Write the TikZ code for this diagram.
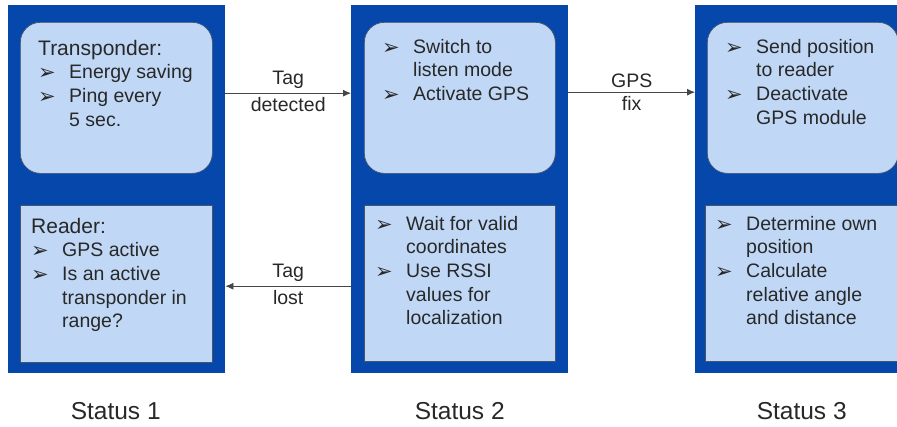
\documentclass[tikz,border=0pt]{standalone}
\usepackage{fontspec}
\setmainfont{Liberation Sans}
\newfontfamily\bulfont{DejaVu Sans}
\usetikzlibrary{positioning, arrows.meta}

\definecolor{stdark}{RGB}{6,71,172}
\definecolor{stlight}{RGB}{192,216,246}
\definecolor{stedge}{RGB}{70,84,108}
\definecolor{sttext}{RGB}{40,40,40}
\definecolor{starrow}{RGB}{70,70,70}

\newcommand{\bl}{\makebox[31pt][l]{\raisebox{-1pt}{\bulfont\fontsize{21}{21}\selectfont ➢}}}
\newcommand{\hd}[1]{\multicolumn{2}{@{}l@{}}{\fontsize{21}{24}\selectfont #1}}

\tikzset{
  column/.style={fill=stdark, inner sep=0pt, anchor=north west},
  roundbox/.style={fill=stlight, draw=stedge, line width=0.7pt, rounded corners=20pt, inner sep=0pt, anchor=north west},
  squarebox/.style={fill=stlight, draw=stedge, line width=0.7pt, inner sep=0pt, anchor=north west},
  boxtext/.style={anchor=north west, inner sep=0pt, text=sttext, font=\fontsize{19.5}{23.6}\selectfont},
  lbl/.style={inner sep=0pt, text=sttext, font=\fontsize{19.5}{23.6}\selectfont},
  flow/.style={draw=starrow, line width=0.8pt, -{Latex[length=8pt, width=7pt]}},
  status/.style={anchor=base, text=sttext, font=\fontsize{24.5}{28}\selectfont},
}

\begin{document}
\begin{tikzpicture}[x=1pt, y=-1pt]
    \useasboundingbox (0,0) rectangle (897,426);
    \clip (0,0) rectangle (897,426);

    % Columns
    \node[column, minimum width=217pt, minimum height=368pt] (col1) at (8,5) {};
    \node[column, minimum width=217pt, minimum height=368pt] (col2) at (351,5) {};
    \node[column, minimum width=217pt, minimum height=368pt] (col3) at (695,5) {};

    % Boxes
    \node[roundbox, minimum width=192pt, minimum height=151pt] (up1) at (20,22) {};
    \node[squarebox, minimum width=192pt, minimum height=157pt] (lo1) at (20,205) {};
    \node[roundbox, minimum width=191pt, minimum height=151pt] (up2) at (364,22) {};
    \node[squarebox, minimum width=191pt, minimum height=156pt] (lo2) at (364,205) {};
    \node[roundbox, minimum width=191pt, minimum height=151pt] (up3) at (707,22) {};
    \node[squarebox, minimum width=193pt, minimum height=156pt] (lo3) at (705,205) {};

    % Texts
    \node[boxtext] (t1a) at (38,38.5) {\begin{tabular}{@{}l@{}l@{}}\hd{Transponder:}\\ \bl & Energy saving\\ \bl & Ping every\\ & 5 sec.\end{tabular}};
    \node[boxtext] (t1b) at (31,216.5) {\begin{tabular}{@{}l@{}l@{}}\hd{Reader:}\\ \bl & GPS active\\ \bl & Is an active\\ & transponder in\\ & range?\end{tabular}};
    \node[boxtext] (t2a) at (382,36.5) {\begin{tabular}{@{}l@{}l@{}}\bl & Switch to\\ & listen mode\\ \bl & Activate GPS\end{tabular}};
    \node[boxtext] (t2b) at (375,213.5) {\begin{tabular}{@{}l@{}l@{}}\bl & Wait for valid\\ & coordinates\\ \bl & Use RSSI\\ & values for\\ & localization\end{tabular}};
    \node[boxtext] (t3a) at (725,36.5) {\begin{tabular}{@{}l@{}l@{}}\bl & Send position\\ & to reader\\ \bl & Deactivate\\ & GPS module\end{tabular}};
    \node[boxtext] (t3b) at (715,213.5) {\begin{tabular}{@{}l@{}l@{}}\bl & Determine own\\ & position\\ \bl & Calculate\\ & relative angle\\ & and distance\end{tabular}};

    % Transitions
    \draw[flow] ([yshift=96pt]col1.east) -- ([yshift=96pt]col2.west)
        node[midway, lbl, above=4pt] {Tag} node[midway, lbl, below=4pt] {detected};
    \draw[flow] ([yshift=97pt]col2.east) -- ([yshift=97pt]col3.west)
        node[midway, lbl, above=4pt] {GPS} node[midway, lbl, below=4pt] {fix};
    \draw[flow] ([yshift=-97pt]col2.west) -- ([yshift=-97pt]col1.east)
        node[midway, lbl, above=4pt] {Tag} node[midway, lbl, below=4pt] {lost};

    % Status labels
    \node[status] (st1) at ([xshift=-1pt, yshift=-46pt]col1.south) {Status 1};
    \node[status] (st2) at ([yshift=-46pt]col2.south) {Status 2};
    \node[status] (st3) at ([xshift=-2pt, yshift=-46pt]col3.south) {Status 3};
\end{tikzpicture}
\end{document}
